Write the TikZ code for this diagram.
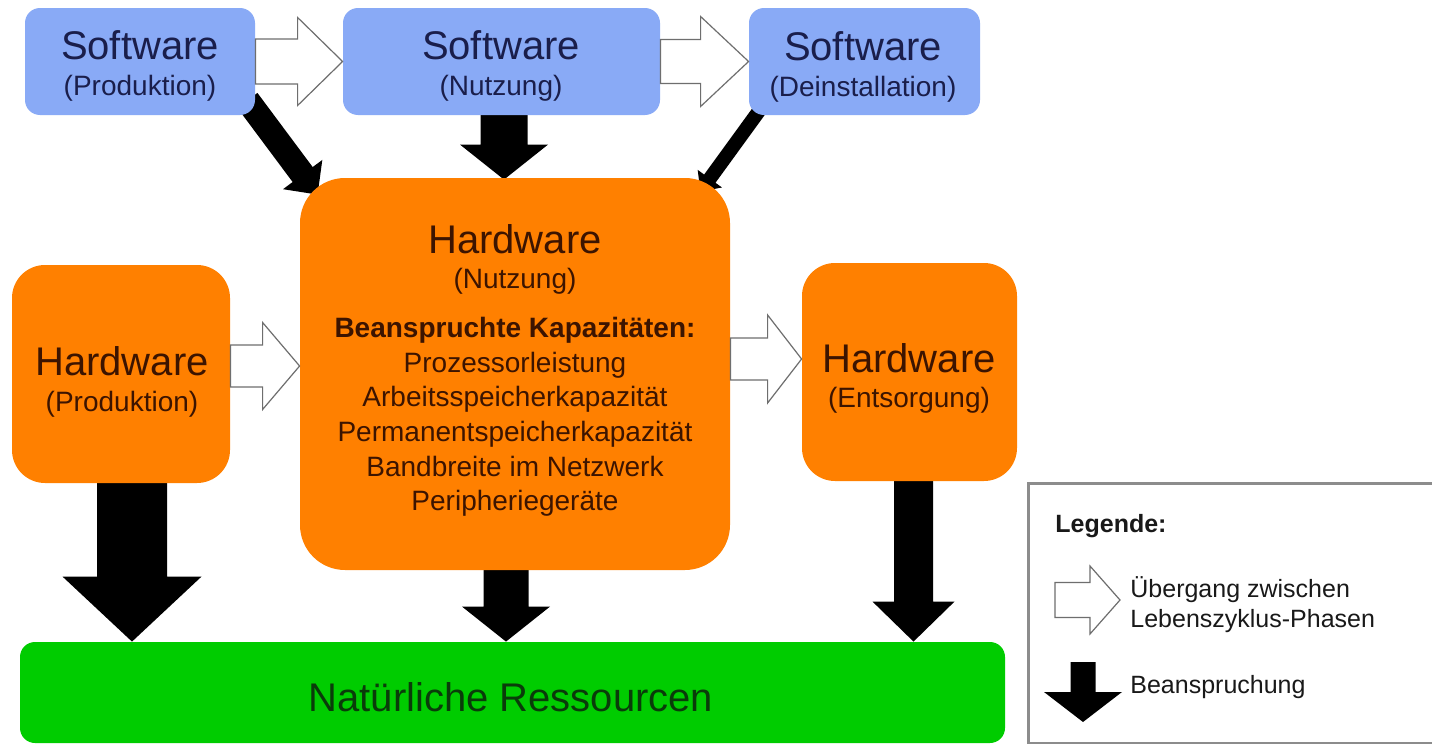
\documentclass[tikz,border=0pt]{standalone}
\usepackage{fontspec}
\setmainfont{Liberation Sans}
\usetikzlibrary{calc,backgrounds}
\definecolor{swblue}{RGB}{137,170,246}
\definecolor{hworange}{RGB}{255,128,0}
\definecolor{nrgreen}{RGB}{0,204,0}
\definecolor{swtext}{RGB}{26,30,75}
\definecolor{hwtext}{RGB}{60,20,0}
\definecolor{nrtext}{RGB}{10,60,10}
\definecolor{hollowgray}{RGB}{110,110,110}
\definecolor{legendgray}{RGB}{140,140,140}
\definecolor{legtext}{RGB}{25,25,25}

% #1 style, #2 start, #3 end, #4 shaft half width, #5 head half width, #6 head length
\newcommand{\blockarrow}[6]{%
  \coordinate (ba-h) at ($(#3)!#6!(#2)$);
  \path[#1] ($(#2)!#4!90:(#3)$) -- ($(ba-h)!#4!90:(#3)$) -- ($(ba-h)!#5!90:(#3)$)
    -- (#3) -- ($(ba-h)!#5!-90:(#3)$) -- ($(ba-h)!#4!-90:(#3)$) -- ($(#2)!#4!-90:(#3)$) -- cycle;
}

\tikzset{
  swbox/.style={fill=swblue, rounded corners=7.5pt, inner sep=0pt, minimum height=53.5pt},
  hwbox/.style={fill=hworange, inner sep=0pt},
  nrbox/.style={fill=nrgreen, rounded corners=7.5pt, inner sep=0pt},
  ttl/.style={anchor=base, inner sep=0pt, font=\fontsize{20}{24}\selectfont},
  sub/.style={anchor=base, inner sep=0pt, font=\fontsize{14}{17}\selectfont},
  subb/.style={anchor=base, inner sep=0pt, font=\fontsize{14}{17}\selectfont\bfseries},
  leg/.style={anchor=base west, inner sep=0pt, text=legtext, font=\fontsize{12.5}{15}\selectfont},
  hollow/.style={fill=white, draw=hollowgray, line width=0.6pt, line join=miter},
  beans/.style={fill=black},
  legframe/.style={draw=legendgray, line width=1.25pt},
}

\begin{document}
\begin{tikzpicture}[x=0.5pt,y=-0.5pt]
\path[use as bounding box] (0,0) rectangle (1432,744);

% boxes
\node[swbox, minimum width=115pt] (swp) at (140,61.5) {};
\node[swbox, minimum width=158.5pt] (swn) at (501.5,61.5) {};
\node[swbox, minimum width=115.5pt] (swd) at (864.5,61.5) {};
\node[hwbox, rounded corners=16.5pt, minimum width=109pt, minimum height=109pt] (hwp) at (121,374) {};
\node[hwbox, rounded corners=22.5pt, minimum width=215pt, minimum height=196pt] (hwn) at (515,374) {};
\node[hwbox, rounded corners=16.5pt, minimum width=107.5pt, minimum height=109pt] (hwe) at (909.5,372) {};
\node[nrbox, minimum width=492.5pt, minimum height=50.5pt] (nr) at (512.5,692.5) {};
\node[inner sep=0pt, minimum width=201.5pt, minimum height=129.5pt] (lg) at (1230.5,613.5) {};
\draw[legframe] (lg.north east) -- (lg.north west) -- (lg.south west) -- (lg.south east);

% texts
\node[ttl, text=swtext] (swp1) at (140,60) {Software};
\node[sub, text=swtext] (swp2) at (140,96) {(Produktion)};
\node[ttl, text=swtext] (swn1) at (501,60) {Software};
\node[sub, text=swtext] (swn2) at (501,96) {(Nutzung)};
\node[ttl, text=swtext] (swd1) at (863,61) {Software};
\node[sub, text=swtext] (swd2) at (863,97) {(Deinstallation)};

\node[ttl, text=hwtext] (hwp1) at (122,375) {Hardware};
\node[sub, text=hwtext] (hwp2) at (122,411) {(Produktion)};
\node[ttl, text=hwtext] (hwe1) at (909,372) {Hardware};
\node[sub, text=hwtext] (hwe2) at (909,407) {(Entsorgung)};

\node[ttl, text=hwtext] (hwn1) at (515,253) {Hardware};
\node[sub, text=hwtext] (hwn2) at (515,288) {(Nutzung)};
\node[subb, text=hwtext] (hwn3) at (515,337) {Beanspruchte Kapazitäten:};
\node[sub, text=hwtext] (hwn4) at (515,372) {Prozessorleistung};
\node[sub, text=hwtext] (hwn5) at (515,406) {Arbeitsspeicherkapazität};
\node[sub, text=hwtext] (hwn6) at (515,441) {Permanentspeicherkapazität};
\node[sub, text=hwtext] (hwn7) at (515,476) {Bandbreite im Netzwerk};
\node[sub, text=hwtext] (hwn8) at (515,510) {Peripheriegeräte};

\node[ttl, text=nrtext] (nr1) at (511,711) {Natürliche Ressourcen};

\node[leg, font=\fontsize{12.5}{15}\selectfont\bfseries] (lg1) at (1055,532) {Legende:};
\node[leg] (lg2) at (1130,597) {Übergang zwischen};
\node[leg] (lg3) at (1130,627) {Lebenszyklus-Phasen};
\node[leg] (lg4) at (1130,693) {Beanspruchung};

% black arrows (behind boxes)
\begin{scope}[on background layer]
  \fill[white] (0,0) rectangle (1432,744);
  \coordinate (b1s) at ($(swp.south east)+(-8,-15)$);
  \coordinate (b1e) at ($(hwn.north west)+(18,17)$);
  \blockarrow{beans}{b1s}{b1e}{6.25pt}{12.25pt}{12.5pt}
  \coordinate (b2s) at ($(swn.south)+(2.5,-5)$);
  \coordinate (b2e) at ($(b2s |- hwn.north)+(0,2)$);
  \blockarrow{beans}{b2s}{b2e}{11.75pt}{22pt}{17.5pt}
  \coordinate (b3s) at ($(swd.south west)+(13,-8)$);
  \coordinate (b3e) at ($(hwn.north east)+(-30,14)$);
  \blockarrow{beans}{b3s}{b3e}{3.5pt}{7.5pt}{8pt}
  \coordinate (b4s) at ($(hwp.south)+(11,-5)$);
  \coordinate (b4e) at (b4s |- nr.north);
  \blockarrow{beans}{b4s}{b4e}{17.5pt}{34.75pt}{32.5pt}
  \coordinate (b5s) at ($(hwn.south)+(-9,-5)$);
  \coordinate (b5e) at (b5s |- nr.north);
  \blockarrow{beans}{b5s}{b5e}{11.25pt}{22pt}{17.5pt}
  \coordinate (b6s) at ($(hwe.south)+(4,-5)$);
  \coordinate (b6e) at (b6s |- nr.north);
  \blockarrow{beans}{b6s}{b6e}{9.75pt}{20.5pt}{20pt}
\end{scope}

% hollow arrows (transitions)
\blockarrow{hollow}{swp.east}{swn.west}{11.25pt}{22pt}{22.5pt}
\blockarrow{hollow}{swn.east}{swd.west}{11pt}{22.5pt}{24pt}
\coordinate (h3s) at ($(hwp.east)+(0,-8)$);
\coordinate (h3e) at (hwn.west |- h3s);
\blockarrow{hollow}{h3s}{h3e}{10.5pt}{21.75pt}{18.5pt}
\coordinate (h4e) at ($(hwe.west)+(0,-13)$);
\coordinate (h4s) at (hwn.east |- h4e);
\blockarrow{hollow}{h4s}{h4e}{10.5pt}{22pt}{17pt}

% legend symbols
\coordinate (l1s) at (1055,600);
\coordinate (l1e) at (1120,600);
\blockarrow{hollow}{l1s}{l1e}{8.75pt}{17pt}{15pt}
\coordinate (l2s) at (1083,662);
\coordinate (l2e) at (1083,722);
\blockarrow{beans}{l2s}{l2e}{6.25pt}{19.5pt}{15pt}
\end{tikzpicture}
\end{document}
